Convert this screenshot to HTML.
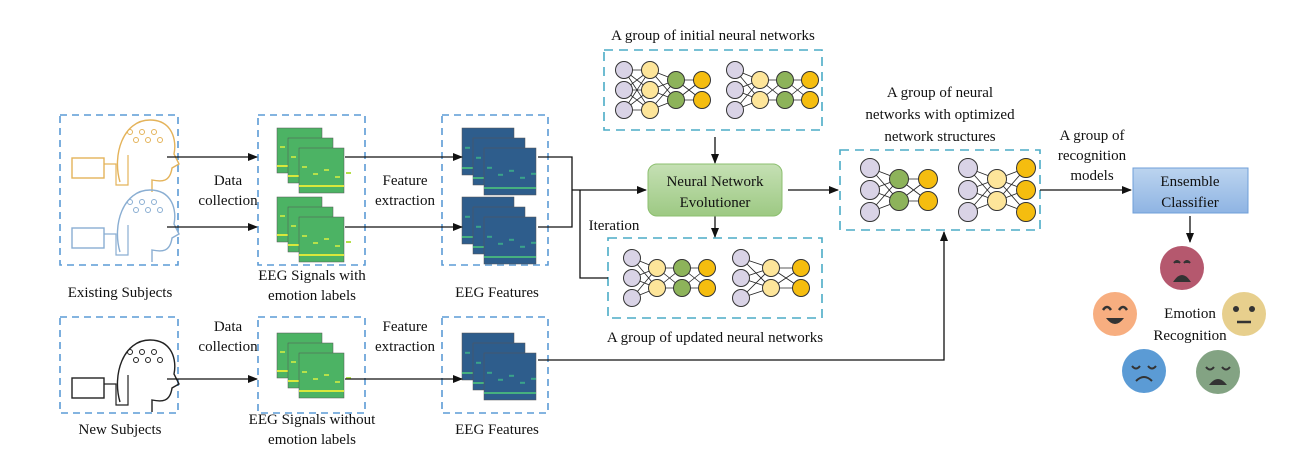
<!DOCTYPE html>
<html><head><meta charset="utf-8"><style>
body{margin:0;background:#fff}
svg{display:block}
text{font-family:"Liberation Serif",serif;font-size:15px;fill:#111;text-anchor:middle}
</style></head><body>
<svg id="s" width="1305" height="461" viewBox="0 0 1305 461" xmlns="http://www.w3.org/2000/svg">
<defs>
<marker id="a" markerWidth="10" markerHeight="8" refX="9" refY="4" orient="auto" markerUnits="userSpaceOnUse"><path d="M0,0L10,4L0,8z" fill="#111"/></marker>
<linearGradient id="gb" x1="0" y1="0" x2="0" y2="1"><stop offset="0" stop-color="#bcd4ef"/><stop offset="1" stop-color="#8fb4e3"/></linearGradient>
<linearGradient id="gg" x1="0" y1="0" x2="0" y2="1"><stop offset="0" stop-color="#c5e0b4"/><stop offset="1" stop-color="#9dc983"/></linearGradient>
</defs>
<g fill="none" stroke="#5b9bd5" stroke-width="1.6" stroke-dasharray="7,5">
<rect x="60" y="115" width="118" height="150"/>
<rect x="258" y="115" width="107" height="150"/>
<rect x="442" y="115" width="106" height="150"/>
<rect x="60" y="317" width="118" height="96"/>
<rect x="258" y="317" width="107" height="96"/>
<rect x="442" y="317" width="106" height="96"/>
</g>
<g fill="none" stroke="#4bacc6" stroke-width="1.6" stroke-dasharray="9,6">
<rect x="604" y="50" width="218" height="80"/>
<rect x="608" y="238" width="214" height="80"/>
<rect x="840" y="150" width="200" height="80"/>
</g>
<g id="dyn"></g>
<g stroke="#111" stroke-width="1.3" fill="none">
<line x1="167" y1="157" x2="257" y2="157" marker-end="url(#a)"/>
<line x1="167" y1="227" x2="257" y2="227" marker-end="url(#a)"/>
<line x1="345" y1="157" x2="462" y2="157" marker-end="url(#a)"/>
<line x1="345" y1="227" x2="462" y2="227" marker-end="url(#a)"/>
<line x1="167" y1="379" x2="257" y2="379" marker-end="url(#a)"/>
<line x1="345" y1="379" x2="462" y2="379" marker-end="url(#a)"/>
<polyline points="538,157 572,157 572,227 538,227"/>
<line x1="572" y1="190" x2="646" y2="190" marker-end="url(#a)"/>
<polyline points="580,190 580,278 608,278"/>
<line x1="715" y1="137" x2="715" y2="163" marker-end="url(#a)"/>
<line x1="715" y1="216" x2="715" y2="237" marker-end="url(#a)"/>
<line x1="788" y1="190" x2="838" y2="190" marker-end="url(#a)"/>
<polyline points="538,360 944,360 944,232" marker-end="url(#a)"/>
<line x1="1040" y1="190" x2="1131" y2="190" marker-end="url(#a)"/>
<line x1="1190" y1="216" x2="1190" y2="242" marker-end="url(#a)"/>
</g>
<rect x="648" y="164" width="134" height="52" rx="9" fill="url(#gg)" stroke="#8cbf6f"/>
<text x="715" y="186">Neural Network</text><text x="715" y="207">Evolutioner</text>
<rect x="1133" y="168" width="115" height="45" fill="url(#gb)" stroke="#6f9fd8"/>
<text x="1190" y="186">Ensemble</text><text x="1190" y="207">Classifier</text>
<text x="228" y="185">Data</text><text x="228" y="205">collection</text>
<text x="405" y="185">Feature</text><text x="405" y="205">extraction</text>
<text x="228" y="331">Data</text><text x="228" y="351">collection</text>
<text x="405" y="331">Feature</text><text x="405" y="351">extraction</text>
<text x="614" y="230">Iteration</text>
<text x="120" y="297">Existing Subjects</text>
<text x="312" y="280">EEG Signals with</text><text x="312" y="300">emotion labels</text>
<text x="497" y="297">EEG Features</text>
<text x="120" y="434">New Subjects</text>
<text x="312" y="424">EEG Signals without</text><text x="312" y="444">emotion labels</text>
<text x="497" y="434">EEG Features</text>
<text x="713" y="40">A group of initial neural networks</text>
<text x="715" y="342">A group of updated neural networks</text>
<text x="940" y="97">A group of neural</text><text x="940" y="119">networks with optimized</text><text x="940" y="141">network structures</text>
<text x="1092" y="140">A group of</text><text x="1092" y="160">recognition</text><text x="1092" y="180">models</text>
<text x="1190" y="318">Emotion</text><text x="1190" y="340">Recognition</text>
</svg>
<script>
const NS="http://www.w3.org/2000/svg",G=document.getElementById("dyn");
function el(t,a){const e=document.createElementNS(NS,t);for(const k in a)e.setAttribute(k,a[k]);G.appendChild(e);return e;}
const col={p:"#d9d3e6",y:"#fde59a",g:"#8db35a",o:"#f5bd0f"};
function net(x0,cy,layers,r,dx,sp){
 const pos=layers.map((l,i)=>{const n=l.length;return l.split("").map((c,j)=>[x0+i*dx,cy+(j-(n-1)/2)*sp,c]);});
 for(let i=0;i<pos.length-1;i++)for(const a of pos[i])for(const b of pos[i+1])el("line",{x1:a[0],y1:a[1],x2:b[0],y2:b[1],stroke:"#222","stroke-width":0.8});
 for(const L of pos)for(const c of L)el("circle",{cx:c[0],cy:c[1],r:r,fill:col[c[2]],stroke:"#333","stroke-width":1});
}
net(624,90,["ppp","yyy","gg","oo"],8.5,26,20);
net(735,90,["ppp","yy","gg","oo"],8.5,25,20);
net(632,278,["ppp","yy","gg","oo"],8.5,25,20);
net(741,278,["ppp","yy","oo"],8.5,30,20);
net(870,190,["ppp","gg","oo"],9.5,29,22);
net(968,190,["ppp","yy","ooo"],9.5,29,22);
function stack(x,y,w,h,c1,c2,c3){
 for(let k=0;k<3;k++){const X=x+k*11,Y=y+k*10;
  el("rect",{x:X,y:Y,width:w,height:h,fill:c1,stroke:"#555","stroke-width":0.5});
  for(let i=0;i<5;i++)el("rect",{x:X+3+i*11,y:Y+h*0.4+((i*7)%11),width:5,height:2,fill:c2});
  el("rect",{x:X,y:Y+h-8,width:w,height:2,fill:c3});
 }}
[[277,128],[277,197],[277,333]].forEach(p=>stack(p[0],p[1],45,45,"#4cb364","#b5e04a","#d8e83c"));
[[462,128],[462,197],[462,333]].forEach(p=>stack(p[0],p[1],52,47,"#2e5d8c","#3aa38a","#46b07f"));
function head(x,y,c){
 el("path",{d:`M${x},${y+42} C${x-8},${y+15} ${x+3},${y-20} ${x+30},${y-20} C${x+52},${y-20} ${x+57},${y} ${x+54},${y+14} L${x+59},${y+24} L${x+52},${y+28} C${x+50},${y+42} ${x+42},${y+42} ${x+32},${y+40} L${x+32},${y+52}`,fill:"none",stroke:c,"stroke-width":1.4});
 el("rect",{x:x-48,y:y+18,width:32,height:20,fill:"none",stroke:c,"stroke-width":1.4});
 el("path",{d:`M${x-16},${y+24} L${x-4},${y+24} L${x-4},${y+45} L${x+8},${y+45} L${x+8},${y+15}`,fill:"none",stroke:c,"stroke-width":1.2});
 for(let i=0;i<6;i++)el("circle",{cx:x+10+i*6,cy:y-8+(i%2)*8,r:2.5,fill:"none",stroke:c});
}
head(120,140,"#e4b35a");head(120,210,"#8aaed2");head(120,360,"#222");
const faces=[[1182,268,"#b5586e"],[1115,314,"#f7ae80"],[1244,314,"#e7cf8d"],[1144,371,"#5b9bd5"],[1218,372,"#83a383"]];
faces.forEach(f=>el("circle",{cx:f[0],cy:f[1],r:22,fill:f[2]}));
const d="#333";
el("path",{d:"M1174,263 q3,-4 6,0 M1184,263 q3,-4 6,0 M1175,281 q7,-10 14,0z",fill:d,stroke:d,"stroke-width":2});
el("path",{d:"M1103,310 q4,-6 8,0 M1119,310 q4,-6 8,0",fill:"none",stroke:d,"stroke-width":2.5});
el("path",{d:"M1106,318 q9,12 18,0z",fill:d});
el("circle",{cx:1236,cy:309,r:3,fill:d});el("circle",{cx:1252,cy:309,r:3,fill:d});
el("path",{d:"M1237,322 h14",stroke:d,"stroke-width":2.5});
el("path",{d:"M1132,366 q4,5 8,0 M1148,366 q4,5 8,0 M1136,381 q8,-8 16,0",fill:"none",stroke:d,"stroke-width":2});
el("path",{d:"M1206,367 q4,5 8,0 M1222,367 q4,5 8,0",fill:"none",stroke:d,"stroke-width":2});
el("path",{d:"M1209,385 q9,-12 18,0z",fill:d});
</script>
</body></html>
